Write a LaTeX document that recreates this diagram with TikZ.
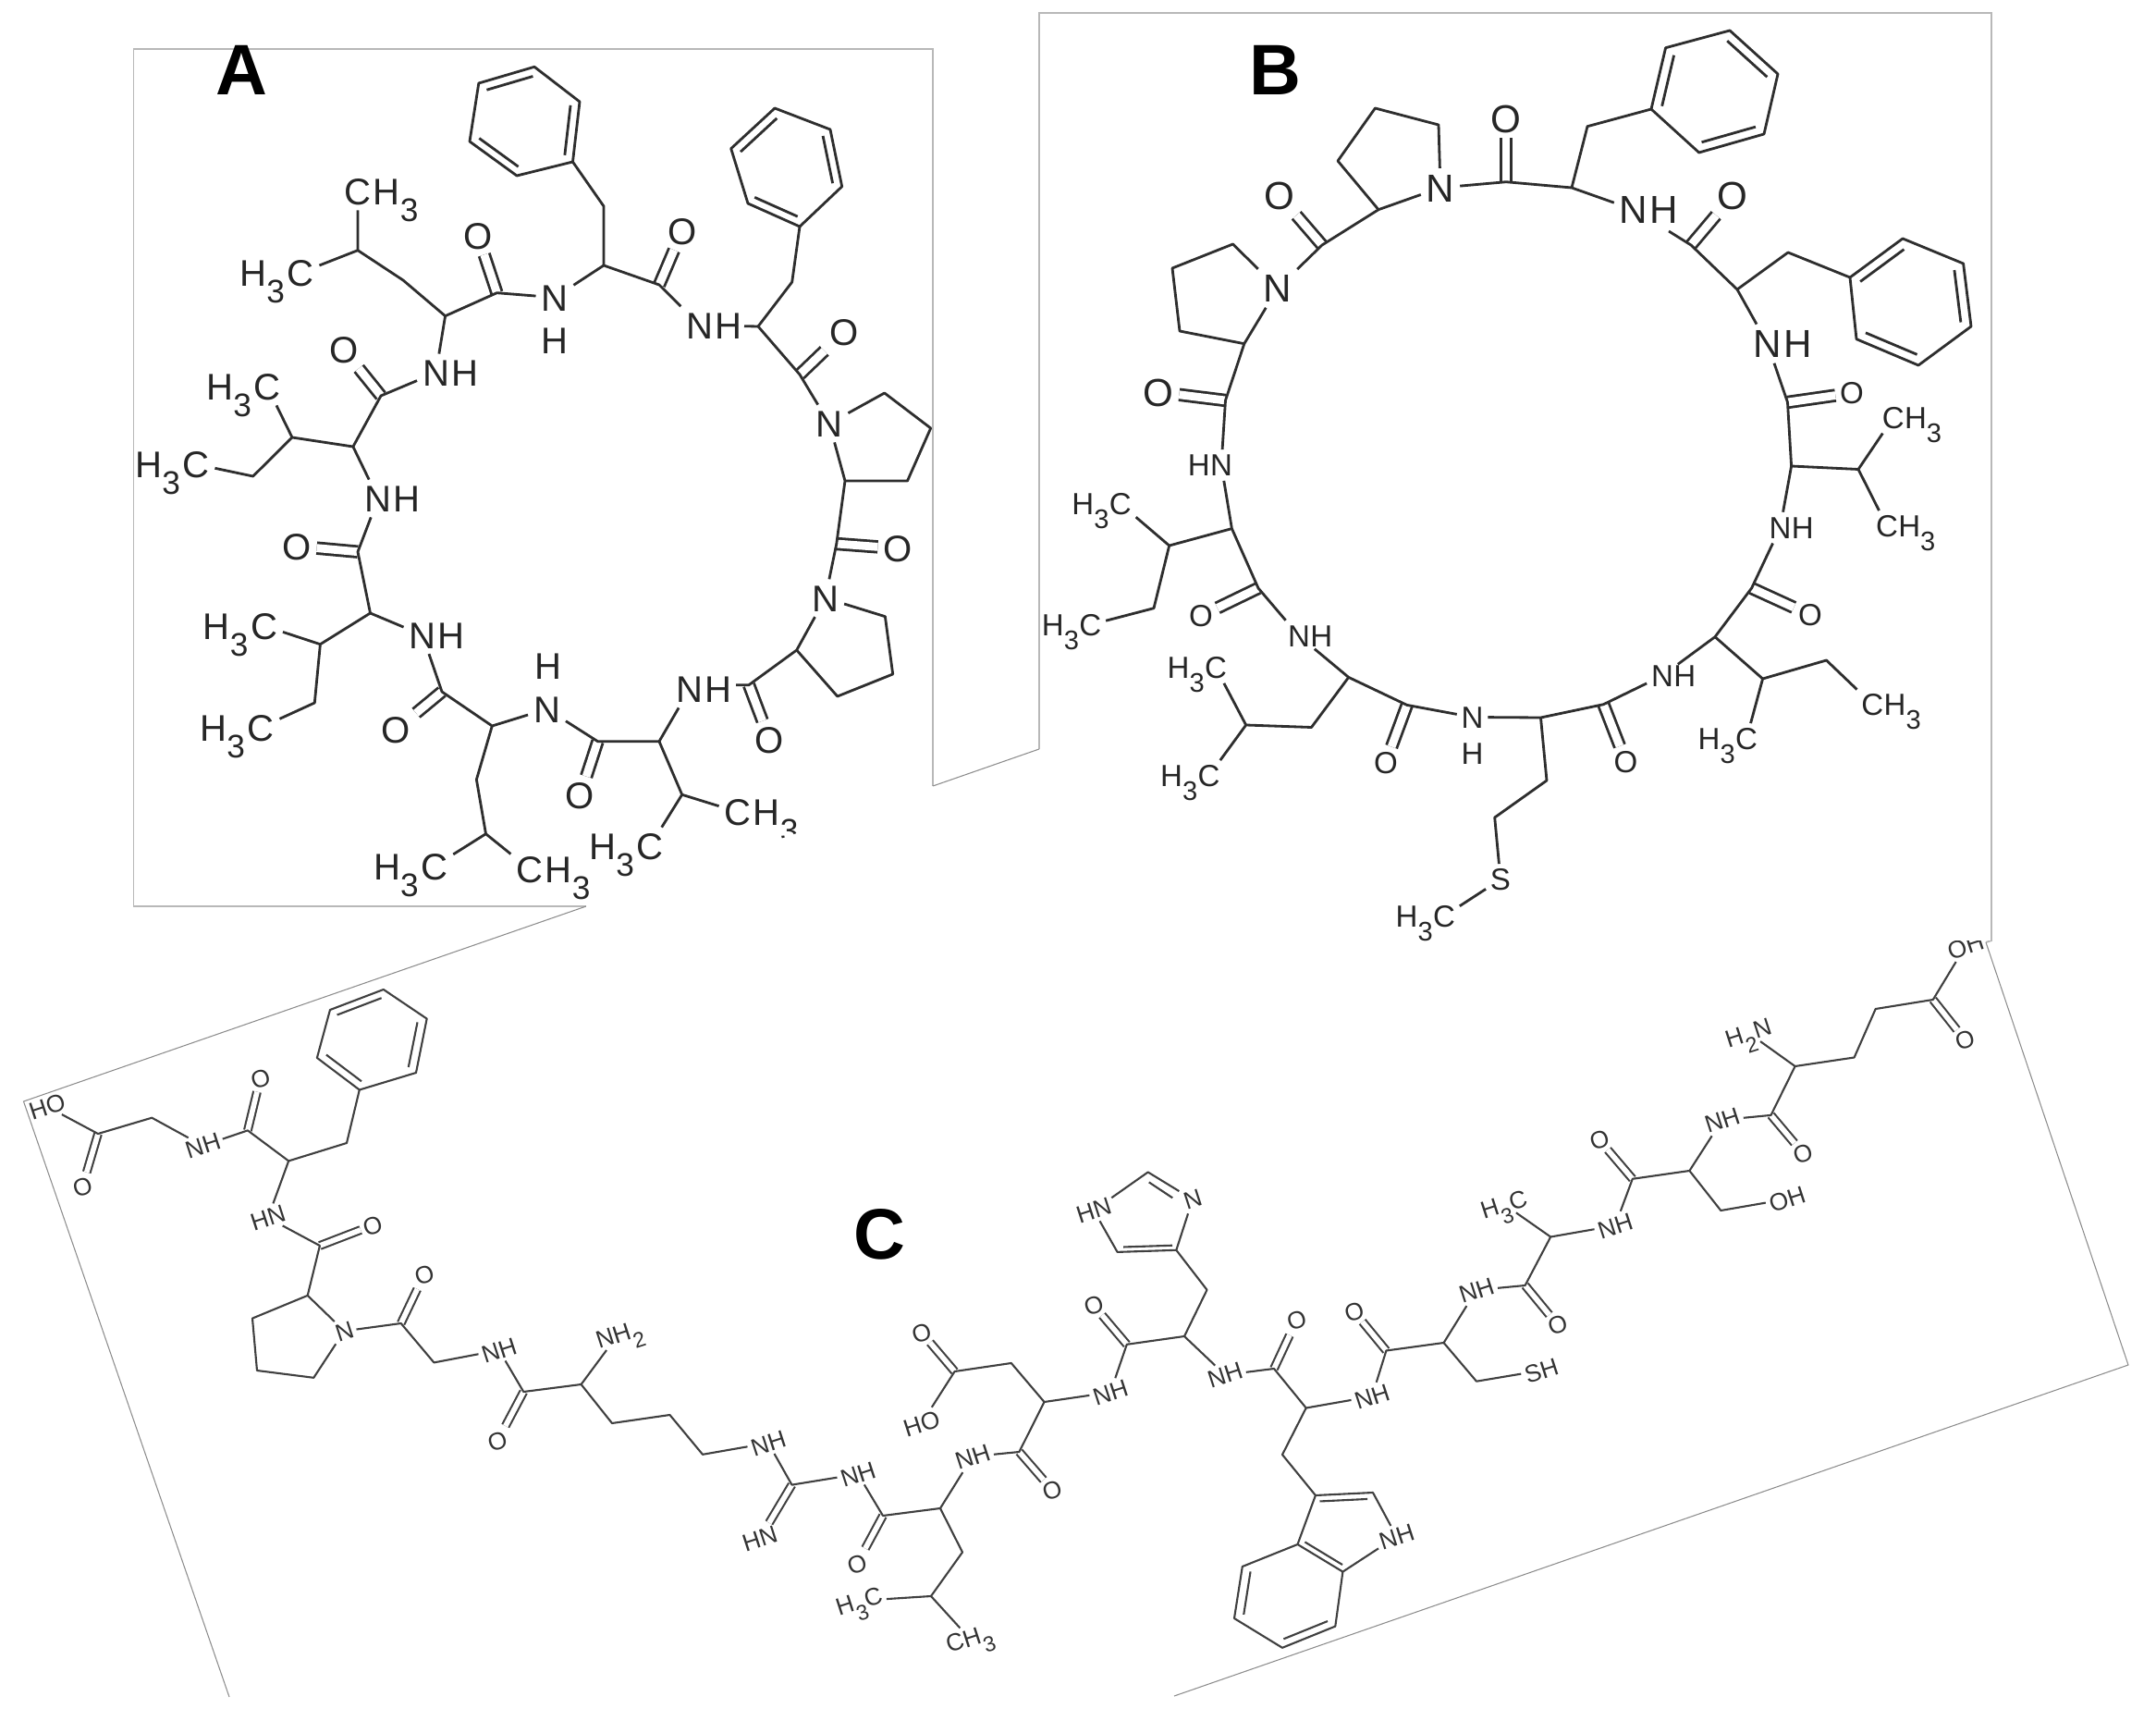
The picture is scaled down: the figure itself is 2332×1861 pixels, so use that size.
\documentclass[tikz,border=0pt]{standalone}
\usepackage{fontspec}
\setmainfont{Liberation Sans}
\usetikzlibrary{calc}
\newcommand{\low}[1]{\raisebox{-.45em}{\scalebox{.88}{#1}}}
\newcommand{\ringdbl}[3]{\draw[bond] ($(#1)!.17!(#3)$) -- ($(#2)!.17!(#3)$);}
\tikzset{
  bond/.style={line width=.8pt,draw=black!82,line join=round},
  dbl/.style={bond,double=white,double distance=2.5pt},
  thin bond/.style={line width=.6pt,draw=black!75,line join=round},
  thin dbl/.style={thin bond,double=white,double distance=1.6pt},
  frame/.style={line width=.55pt,draw=black!28},
  thin frame/.style={line width=.3pt,draw=black!45},
  panel/.style={font=\fontsize{22}{24}\selectfont\bfseries,inner sep=0pt},
  bigatom/.style={font=\fontsize{12}{13}\selectfont,inner sep=1.5pt,text height=8.6pt,text depth=0pt,text=black!85},
  midatom/.style={font=\fontsize{11.4}{12}\selectfont,inner sep=1.5pt,text height=8.2pt,text depth=0pt,text=black!85},
  smallatom/.style={font=\fontsize{9.4}{10}\selectfont,inner sep=1.2pt,text height=6.8pt,text depth=0pt,text=black!85},
  tinyatom/.style={font=\fontsize{7.5}{8}\selectfont,inner sep=.8pt,rotate=18,text height=5.4pt,text depth=0pt,text=black!80},
  label distance=-2.7pt,
  nh/.style={label={[atom]right:H}},
  hn/.style={label={[atom]left:H}},
  cme/.style={label={[atom]right:H\low{3}}},
  mec/.style={label={[atom]left:H\low{3}}},
}
\begin{document}
\begin{tikzpicture}[x=0.01cm,y=-0.01cm]
\useasboundingbox (0,0) rectangle (2332,1861);
% frames of the three pages
\coordinate (fa) at (1009,850);
\coordinate (fb) at (1124,810);
\coordinate (fc) at (634,980);
\coordinate (fd) at (25.5,1191);
\coordinate (fe) at (248,1835);
\coordinate (ff) at (2148,1019);
\coordinate (fg) at (2302,1476);
\coordinate (fh) at (1270,1834);
\draw[frame] (fa) -- (1009,53) -- (144.5,53) -- (144.5,980) -- (fc);
\draw[frame] (fb) -- (1124,14) -- (2154,14) -- (2154,1017) -- (ff);
\draw[thin frame] (fc) -- (fd) -- (fe);
\draw[thin frame] (fa) -- (fb);
\draw[thin frame] (ff) -- (fg) -- (fh);

% peptide A
\begin{scope}[atom/.style={midatom}]
\node[panel] (pa) at (261,76) {A};
\foreach \n/\x/\y in {a1/387/270.7,a2/436/303,a3/481.6/341.7,a4/537.4/316.7,a5/653/223,a6/653/287,a7/713/308,a8/820/353,a9/856.7/305,a10/865/405,
  a11/904.8/588,a12/810/740.7,a13/713/801.7,a14/646.5/801.7,a15/737.7/859.3,a16/532.3/785,a17/478/748,a18/515.4/843,a19/525.5/901.7,a20/400.5/663,
  a21/346.4/696.7,a22/340.3/760,a23/387/596.7,a24/381.9/483,a25/316/473,a26/273.7/515,a27/412/428,ae1/805/352.7,ae2/796/740.7,
  p1/956.7/425,p2/1006.7/463,p3/981.5/520,p4/914/520,p5/957.4/666.7,p6/965.7/729,p7/905.8/753,p8/861.7/703,
  b1/517.8/90,b2/578/72.3,b3/627/110,b4/619.5/175,b5/559/190,b6/508/153,
  d1/838/117,d2/898/140,d3/910.7/201.7,d4/865/245,d5/809/220,d6/790.7/160.7}
  \coordinate (\n) at (\x,\y);
\coordinate (bc) at ($(b1)!.5!(b4)$);
\coordinate (dc) at ($(d1)!.5!(d4)$);
\foreach \n/\x/\y in {aO1/517/255,aO2/737.7/250,aO3/913/359,aO4/971/593,aO5/832.4/800,aO6/627.5/860,aO7/428.5/789,aO8/321/590.7,aO9/371.7/378}
  \node[atom] (\n) at (\x,\y) {O};
\foreach \n/\x/\y in {aN1/600/321.7,aN3/897/458,aN4/892.7/646.7,aN6/591.5/766.7}
  \node[atom] (\n) at (\x,\y) {N};
\foreach \n/\x/\y in {aN2/756.7/351.7,aN5/746/745,aN7/457/686.7,aN8/409/539,aN9/471.5/403}
  \node[atom,nh] (\n) at (\x,\y) {N};
\foreach \n/\x/\y in {aH1/600/368,aH6/592.5/720}
  \node[atom] (\n) at (\x,\y) {H};
\foreach \n/\x/\y in {aC1/387/207,aC4/572.9/940,aC6/798/878}
  \node[atom,cme] (\n) at (\x,\y) {C};
\foreach \n/\x/\y in {aC2/325/295,aC3/469.8/936.7,aC5/703/915,aC7/285.5/676.7,aC8/282/786.7,aC9/289/418,aC10/212/502}
  \node[atom,mec] (\n) at (\x,\y) {C};
\foreach \a/\b in {a4/aO1,a7/aO2,a10/aO3,a11/aO4,a12/aO5,a14/aO6,a17/aO7,a23/aO8,a27/aO9}
  \draw[dbl] (\a) -- (\b);
\draw[bond] (aN9) -- (a3) -- (a4) -- (aN1) -- (a6) -- (a7) -- (aN2);
\draw[bond] (ae1) -- (a8) -- (a10) -- (aN3) -- (p4) -- (a11) -- (aN4) -- (p8) -- (a12) -- (ae2);
\draw[bond] (aN5) -- (a13) -- (a14) -- (aN6) -- (a16) -- (a17) -- (aN7) -- (a20) -- (a23) -- (aN8) -- (a24) -- (a27) -- (aN9);
\draw[bond] (aC1) -- (a1) -- (a2) -- (a3) (a1) -- (aC2);
\draw[bond] (a6) -- (a5) -- (b4) (a8) -- (a9) -- (d4);
\draw[bond] (aN3) -- (p1) -- (p2) -- (p3) -- (p4) (aN4) -- (p5) -- (p6) -- (p7) -- (p8);
\draw[bond] (a13) -- (a15) -- (aC5) (a15) -- (aC6);
\draw[bond] (a16) -- (a18) -- (a19) -- (aC3) (a19) -- (aC4);
\draw[bond] (a20) -- (a21) -- (aC7) (a21) -- (a22) -- (aC8);
\draw[bond] (a24) -- (a25) -- (aC9) (a25) -- (a26) -- (aC10);
\draw[bond] (b1) -- (b2) -- (b3) -- (b4) -- (b5) -- (b6) -- cycle;
\draw[bond] (d1) -- (d2) -- (d3) -- (d4) -- (d5) -- (d6) -- cycle;
\ringdbl{b1}{b2}{bc} \ringdbl{b3}{b4}{bc} \ringdbl{b5}{b6}{bc}
\ringdbl{d6}{d1}{dc} \ringdbl{d2}{d3}{dc} \ringdbl{d4}{d5}{dc}
\end{scope}
% the next page lies over the corner of A
\fill[white] (fc) -- (fa) -- (1009,985) -- (634,985) -- cycle;

% peptide B
\begin{scope}[atom/.style={bigatom}]
\node[panel] (pb) at (1379.5,76) {B};
\foreach \n/\x/\y in {c1/1629/196.7,c2/1700/203,c3/1717/136.7,c4/1829/265,c5/1879/313,c6/1934/273,c7/1933.5/435,c8/1937.6/504,c9/2010/507.5,c10/1894.6/636,
  c11/1855/688.7,c12/1906.6/734,c13/1975.5/714,c14/1734.4/761.7,c15/1666.5/776,c16/1673/844,c17/1616.7/884,c18/1521.8/762.4,c19/1458.7/732.4,c20/1418.5/786.5,
  c21/1347.7/784,c22/1361/636,c23/1332.4/571.6,c24/1264.7/590,c25/1248/657.7,c26/1325.5/433,c27/1430/265,ce1/1805/250,
  q1/1556/135,q2/1487.4/117,q3/1447/174,q4/1491/226.7,r1/1333.5/264,r2/1268/290,r3/1276/358,r4/1345.8/371.7,
  e1/1786/118,e2/1801.6/51.7,e3/1871/33,e4/1923/80,e5/1908/145,e6/1837.7/165,
  f1/2001/300,f2/2058/258,f3/2123.6/285,f4/2132/353,f5/2075/395,f6/2008/366.7}
  \coordinate (\n) at (\x,\y);
\coordinate (ec) at ($(e1)!.5!(e4)$);
\coordinate (fc2) at ($(f1)!.5!(f4)$);
\foreach \n/\x/\y in {bO1/1629/128,bO2/1384/211.7,bO3/1253/424,bO4/1874/211.7}
  \node[atom] (\n) at (\x,\y) {O};
\node[atom] (bN1) at (1558,203) {N};
\node[atom] (bN2) at (1382,311.7) {N};
\node[atom,nh] (bN3) at (1767,226.7) {N};
\node[atom,nh] (bN4) at (1911.8,371.7) {N};
\begin{scope}[atom/.style={smallatom}]
\foreach \n/\x/\y in {bO5/2003/425,bO6/1958/665,bO7/1758.5/823.7,bO8/1498.9/824.4,bO9/1299/666}
  \node[atom] (\n) at (\x,\y) {O};
\node[atom,hn] (bN5) at (1321,503) {N};
\foreach \n/\x/\y in {bN6/1925.5/570.6,bN7/1798/730.7,bN9/1405/687.7}
  \node[atom,nh] (\n) at (\x,\y) {N};
\node[atom] (bN8) at (1592.6,775.5) {N};
\node[atom] (bH8) at (1592.6,815) {H};
\node[atom] (bS) at (1623,951) {S};
\foreach \n/\x/\y in {bC1/2047.8/451.7,bC2/2041/569,bC3/2025.4/761.7}
  \node[atom,cme] (\n) at (\x,\y) {C};
\foreach \n/\x/\y in {bC4/1889/799,bC5/1315/722,bC6/1307.5/839,bC7/1211.8/544.8,bC8/1179.3/675.6,bC9/1562/990.7}
  \node[atom,mec] (\n) at (\x,\y) {C};
\end{scope}
\foreach \a/\b in {c1/bO1,c27/bO2,c26/bO3,c4/bO4,c7/bO5,c10/bO6,c14/bO7,c18/bO8,c22/bO9}
  \draw[dbl] (\a) -- (\b);
\draw[bond] (bN1) -- (c1) -- (c2) -- (bN3);
\draw[bond] (ce1) -- (c4) -- (c5) -- (bN4) -- (c7) -- (c8) -- (bN6) -- (c10) -- (c11) -- (bN7) -- (c14) -- (c15) -- (bN8) -- (c18) -- (c19) -- (bN9) -- (c22) -- (c23) -- (bN5) -- (c26) -- (r4) -- (bN2) -- (c27) -- (q4) -- (bN1);
\draw[bond] (bN1) -- (q1) -- (q2) -- (q3) -- (q4) (bN2) -- (r1) -- (r2) -- (r3) -- (r4);
\draw[bond] (c2) -- (c3) -- (e1) (c5) -- (c6) -- (f1);
\draw[bond] (bC1) -- (c9) -- (bC2) (c8) -- (c9);
\draw[bond] (c11) -- (c12) -- (c13) -- (bC3) (c12) -- (bC4);
\draw[bond] (c15) -- (c16) -- (c17) -- (bS) -- (bC9);
\draw[bond] (c19) -- (c20) -- (c21) -- (bC5) (c21) -- (bC6);
\draw[bond] (c23) -- (c24) -- (bC7) (c24) -- (c25) -- (bC8);
\draw[bond] (e1) -- (e2) -- (e3) -- (e4) -- (e5) -- (e6) -- cycle;
\draw[bond] (f1) -- (f2) -- (f3) -- (f4) -- (f5) -- (f6) -- cycle;
\ringdbl{e1}{e2}{ec} \ringdbl{e3}{e4}{ec} \ringdbl{e5}{e6}{ec}
\ringdbl{f1}{f2}{fc2} \ringdbl{f3}{f4}{fc2} \ringdbl{f5}{f6}{fc2}
\end{scope}

% peptide C, printed smaller and turned
\begin{scope}[atom/.style={tinyatom},bond/.style={thin bond},dbl/.style={thin dbl}]
\node[panel] (pc) at (951,1335) {C};
\foreach \n/\x/\y in {g1/106/1226,g2/164.3/1208.7,g3/267.9/1222.4,g4/312.2/1255.4,g5/345.9/1347,g6/332.7/1400.9,g7/433.7/1431,g8/469.4/1473.4,g9/566.3/1505,g10/628.6/1497,
  g11/662/1539,g12/724.5/1530,g13/760/1572.8,g14/856.5/1605.6,g15/955/1639,g16/1017/1631,g17/1102.4/1570,g18/1129.5/1516,g19/1218.8/1453.8,g20/1281/1445,
  g21/1378/1480,g22/1412.7/1522.5,g23/1499.4/1460.5,g24/1561.6/1452,g25/1649.6/1390,g26/1677.2/1337.5,g27/1765.8/1274.8,g28/1827.4/1266,g29/1915.5/1205.9,g30/1941.6/1153,
  g31/2005.6/1143.5,g32/2028.7/1091,g33/2090.8/1081,g34/375/1236,g35/1041/1678.5,g36/1007/1726,g37/1093.8/1474,g38/1032.6/1483,g39/1305.5/1394.8,g40/1387/1573,
  g41/1597/1493.7,g42/1861.3/1309,
  h1/388.8/1178.5,h2/342.9/1143.9,h3/357/1092,h4/414.8/1070,h5/461.7/1101.6,h6/450/1160,
  k1/273/1425.6,k2/278/1482,k3/339.3/1489.8,m1/1272.3/1351.8,m2/1208.6/1353.9,m3/1241.7/1267.5,
  i1/1422.9/1617,i2/1485/1614,i3/1452.4/1699.6,i4/1403.5/1670,i5/1343.8/1694,i6/1335/1750,i7/1387/1781.8,i8/1444.3/1758.6}
  \coordinate (\n) at (\x,\y);
\coordinate (hc) at ($(h1)!.5!(h4)$);
\coordinate (mc) at (1247,1322);
\coordinate (ic) at ($(i4)!.5!(i7)$);
\coordinate (ic2) at (1450,1655);
\foreach \n/\x/\y in {gO1/89.3/1282.8,gO2/281.6/1165.8,gO3/403/1325,gO4/459/1377.8,gO5/538/1558.5,gO6/927/1691,gO7/1138/1611,gO8/996.8/1441,gO9/1183/1411.6,gO10/1402.4/1427.7,
  gO11/1464.7/1418.4,gO12/1684.6/1432.5,gO13/1729.9/1232.7,gO14/2125.2/1124.4,gO15/1950/1246.8}
  \node[atom] (\n) at (\x,\y) {O};
\foreach \n/\x/\y in {gN1/219.4/1238.9,gN4/539.8/1460,gN5/831/1560.4,gN6/928/1594,gN7/1052/1575,gN8/1201/1505.6,gN9/1325/1486.7,gN10/1484/1510,gN11/1597/1395,gN12/1747/1325.3,gN13/1862.8/1211,gN14/1510.6/1661.6}
  \node[atom] (\n) at (\x,\y) {NH};
\foreach \n/\x/\y in {gN2/289.8/1316.9,gN15/821.8/1663.7,gN16/1183/1308.8}
  \node[atom] (\n) at (\x,\y) {HN};
\node[atom] (gN3) at (372.4,1439.3) {N};
\node[atom] (gN17) at (1290,1297) {N};
\node[atom] (gA1) at (669.4,1442) {NH\low{2}};
\node[atom] (gA2) at (1890.9,1116.7) {H\low{2}N};
\node[atom] (gHO1) at (51,1196.6) {HO};
\node[atom] (gHO2) at (996.8,1539) {HO};
\node[atom] (gOH1) at (1933,1296.6) {OH};
\node[atom] (gOH2) at (2126,1023) {OH};
\node[atom] (gS) at (1667,1482) {SH};
\node[atom] (gM1) at (929,1731) {H\low{3}C};
\node[atom] (gM2) at (1048,1771) {CH\low{3}};
\node[atom] (gM3) at (1626.5,1302) {H\low{3}C};
% OH runs under the edge of page B
\fill[white] (2085,1000) rectangle (2153,1017);
\foreach \a/\b in {g1/gO1,g3/gO2,g5/gO3,g7/gO4,g9/gO5,g15/gO6,g17/gO7,g38/gO8,g19/gO9,g21/gO10,g23/gO11,g25/gO12,g27/gO13,g29/gO15,g33/gO14,g14/gN15}
  \draw[dbl] (\a) -- (\b);
\draw[bond] (gHO1) -- (g1) -- (g2) -- (gN1) -- (g3) -- (g4) -- (gN2) -- (g5) -- (g6) -- (gN3) -- (g7) -- (g8) -- (gN4) -- (g9) -- (g10) -- (g11) -- (g12) -- (g13) -- (gN5) -- (g14) -- (gN6) -- (g15) -- (g16) -- (gN7) -- (g17) -- (g18) -- (gN8) -- (g19) -- (g20) -- (gN9) -- (g21) -- (g22) -- (gN10) -- (g23) -- (g24) -- (gN11) -- (g25) -- (g26) -- (gN12) -- (g27) -- (g28) -- (gN13) -- (g29) -- (g30) -- (g31) -- (g32) -- (g33) -- (gOH2);
\draw[bond] (g4) -- (g34) -- (h1) (g10) -- (gA1) (g30) -- (gA2);
\draw[bond] (g6) -- (k1) -- (k2) -- (k3) -- (gN3);
\draw[bond] (g16) -- (g35) -- (g36) -- (gM1) (g36) -- (gM2);
\draw[bond] (g18) -- (g37) -- (g38) -- (gHO2);
\draw[bond] (g20) -- (g39) -- (m1) -- (m2) -- (gN16) -- (m3) -- (gN17) -- (m1);
\draw[bond] (g22) -- (g40) -- (i1) -- (i2) -- (gN14) -- (i3) -- (i4) -- (i1) (i4) -- (i5) -- (i6) -- (i7) -- (i8) -- (i3);
\draw[bond] (g24) -- (g41) -- (gS) (g26) -- (gM3) (g28) -- (g42) -- (gOH1);
\draw[bond] (h1) -- (h2) -- (h3) -- (h4) -- (h5) -- (h6) -- cycle;
\ringdbl{h1}{h2}{hc} \ringdbl{h3}{h4}{hc} \ringdbl{h5}{h6}{hc}
\ringdbl{m1}{m2}{mc}
\draw[bond] ($(m3)!.2!(mc)$) -- ($(gN17.north west)!.2!(mc)$);
\ringdbl{i1}{i2}{ic2} \ringdbl{i3}{i4}{ic2}
\ringdbl{i5}{i6}{ic} \ringdbl{i7}{i8}{ic}
\end{scope}
\end{tikzpicture}
\end{document}
